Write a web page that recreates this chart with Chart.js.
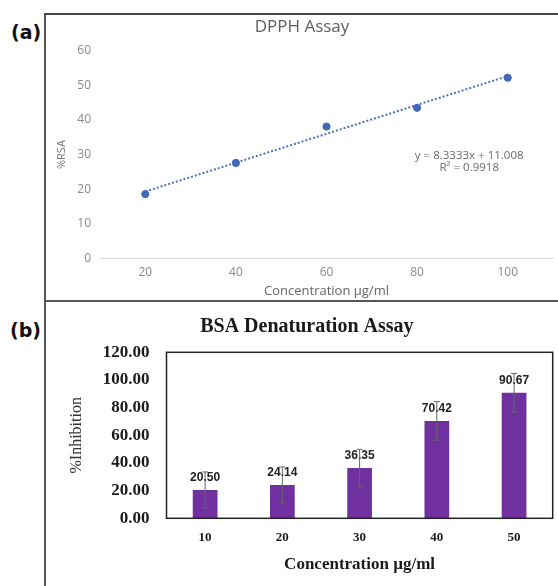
<!DOCTYPE html>
<html lang="en">
<head>
<meta charset="UTF-8" />
<title>DPPH and BSA assays</title>
<script src="https://cdn.jsdelivr.net/npm/chart.js@4.4.0/dist/chart.umd.min.js"></script>
<style>
  html, body { margin: 0; padding: 0; background: #fff; }
  body { width: 558px; height: 586px; position: relative; overflow: hidden; }
  .frame-left { position: absolute; left: 44px; top: 13px; width: 2px; height: 573px; background: #555; }
  .frame-top { position: absolute; left: 44px; top: 13px; width: 514px; height: 2px; background: #444; }
  .frame-mid { position: absolute; left: 44px; top: 300px; width: 514px; height: 2px; background: #555; }
  .tag { position: absolute; font: bold 19px "DejaVu Sans", sans-serif; color: #111; }
  #wrapA { position: absolute; left: 46px; top: 15px; width: 512px; height: 285px; }
  #wrapB { position: absolute; left: 46px; top: 302px; width: 512px; height: 284px; }
</style>
</head>
<body>
  <div class="frame-left"></div>
  <div class="frame-top"></div>
  <div class="frame-mid"></div>
  <div class="tag" style="left:11px; top:21px;">(a)</div>
  <div class="tag" style="left:10px; top:319px;">(b)</div>
  <div id="wrapA"><canvas id="dpph"></canvas></div>
  <div id="wrapB"><canvas id="bsa"></canvas></div>
<script>
// (a) DPPH assay
var dpphConc = ["20", "40", "60", "80", "100"];
var dpphRsa = [18.6, 27.6, 38.1, 43.5, 52.2];
var dpphTrend = [19.34, null, null, null, 52.67]; // trendline ends, y = 8.3333x + 11.008
var dpphEquation = ["y = 8.3333x + 11.008", "R\u00b2 = 0.9918"];

// (b) BSA denaturation assay
var bsaConc = ["10", "20", "30", "40", "50"];
var bsaValues = [20.50, 24.14, 36.35, 70.42, 90.67];
var bsaErrors = [13, 13, 13.5, 14, 14];

Chart.defaults.animation = false;
Chart.defaults.plugins.legend.display = false;
Chart.defaults.plugins.tooltip.enabled = false;
Chart.defaults.maintainAspectRatio = false;

var equationLabel = {
  id: "equationLabel",
  afterDatasetsDraw(chart) {
    var ctx = chart.ctx, a = chart.chartArea;
    var x = a.left + a.width * 0.815;
    ctx.save();
    ctx.font = '11.5px "Open Sans", sans-serif';
    ctx.fillStyle = "#6a6a6a";
    ctx.textAlign = "center";
    ctx.textBaseline = "middle";
    ctx.fillText(dpphEquation[0], x, chart.scales.y.getPixelForValue(29.8));
    ctx.fillText(dpphEquation[1], x, chart.scales.y.getPixelForValue(26.1));
    ctx.restore();
  }
};

new Chart(document.getElementById("dpph"), {
  type: "line",
  data: {
    labels: dpphConc,
    datasets: [
      {
        data: dpphRsa,
        showLine: false,
        pointRadius: 3.6,
        pointBackgroundColor: "#4169b8",
        pointBorderColor: "#4169b8",
      },
      {
        data: dpphTrend,
        spanGaps: true,
        borderColor: "#4a72c0",
        borderWidth: 2,
        borderDash: [2, 2],
        pointRadius: 0,
      },
    ],
  },
  options: {
    layout: { padding: { left: 5, right: 5, top: 0, bottom: 0.5 } },
    plugins: {
      title: {
        display: true,
        text: "DPPH Assay",
        color: "#606060",
        font: { family: '"Open Sans", sans-serif', size: 17, weight: "normal" },
        padding: { top: 1.5, bottom: 13.8 },
      },
    },
    scales: {
      x: {
        offset: true,
        afterFit: (s) => { s.height = 41; },
        grid: { display: false, drawTicks: false },
        border: { display: true, color: "#d9d9d9", width: 1 },
        ticks: { color: "#8a8a8a", padding: 7, font: { family: '"Open Sans", sans-serif', size: 12 } },
        title: {
          display: true,
          text: "Concentration \u00b5g/ml",
          color: "#666",
          font: { family: '"Open Sans", sans-serif', size: 13 },
          padding: { top: 4, bottom: 0 },
        },
      },
      y: {
        min: 0,
        max: 60,
        afterFit: (s) => { s.width = 49; },
        grid: { display: false, drawTicks: false },
        border: { display: false },
        ticks: { stepSize: 10, color: "#8a8a8a", padding: 9, font: { family: '"Open Sans", sans-serif', size: 12 } },
        title: {
          display: true,
          text: "%RSA",
          color: "#777",
          font: { family: '"Open Sans", sans-serif', size: 11 },
          padding: { top: 4.4, bottom: 0 },
        },
      },
    },
  },
  plugins: [equationLabel],
});

var barExtras = {
  id: "barExtras",
  afterDatasetsDraw(chart) {
    var ctx = chart.ctx, y = chart.scales.y;
    var meta = chart.getDatasetMeta(0);
    ctx.save();
    ctx.font = 'bold 12px "Liberation Sans", sans-serif';
    ctx.fillStyle = "#222";
    ctx.textAlign = "center";
    ctx.textBaseline = "middle";
    meta.data.forEach(function (bar, i) {
      ctx.fillText(bsaValues[i].toFixed(2), bar.x, bar.y - 12);
    });
    ctx.strokeStyle = "#666";
    ctx.lineWidth = 1;
    meta.data.forEach(function (bar, i) {
      var top = y.getPixelForValue(bsaValues[i] + bsaErrors[i]);
      var bot = y.getPixelForValue(bsaValues[i] - bsaErrors[i]);
      ctx.beginPath();
      ctx.moveTo(bar.x, top); ctx.lineTo(bar.x, bot);
      ctx.moveTo(bar.x - 3, top); ctx.lineTo(bar.x + 3, top);
      ctx.moveTo(bar.x - 3, bot); ctx.lineTo(bar.x + 3, bot);
      ctx.stroke();
    });
    var a = chart.chartArea;
    ctx.strokeStyle = "#222";
    ctx.lineWidth = 1.5;
    ctx.strokeRect(a.left, a.top, a.width, a.height);
    ctx.restore();
  }
};

var serif = '"Liberation Serif", "Times New Roman", serif';

new Chart(document.getElementById("bsa"), {
  type: "bar",
  data: {
    labels: bsaConc,
    datasets: [
      {
        data: bsaValues,
        backgroundColor: "#7030a0",
        barPercentage: 0.32,
        categoryPercentage: 1,
      },
    ],
  },
  options: {
    layout: { padding: { left: 15, right: 5.3, top: 0, bottom: 10.8 } },
    plugins: {
      title: {
        display: true,
        text: "BSA Denaturation Assay",
        color: "#1a1a1a",
        font: { family: serif, size: 20, weight: "bold" },
        padding: { top: 12.5, bottom: 13.8 },
      },
    },
    scales: {
      x: {
        afterFit: (s) => { s.height = 56.9; },
        grid: { display: false, drawTicks: false },
        border: { display: false },
        ticks: { color: "#1a1a1a", padding: 11.2, font: { family: serif, size: 13, weight: "bold" } },
        title: {
          display: true,
          text: "Concentration \u00b5g/ml",
          color: "#1a1a1a",
          font: { family: serif, size: 17, weight: "bold" },
          padding: { top: 9.7, bottom: 0 },
        },
      },
      y: {
        min: 0,
        max: 120,
        afterFit: (s) => { s.width = 105.5; },
        grid: { display: false, drawTicks: false },
        border: { display: false },
        ticks: {
          stepSize: 20,
          color: "#1a1a1a",
          padding: 17,
          font: { family: serif, size: 17, weight: "bold" },
          callback: (v) => Number(v).toFixed(2),
        },
        title: {
          display: true,
          text: "%Inhibition",
          color: "#333",
          font: { family: serif, size: 16 },
          padding: { top: 5.9, bottom: 0 },
        },
      },
    },
  },
  plugins: [barExtras],
});
</script>
</body>
</html>
